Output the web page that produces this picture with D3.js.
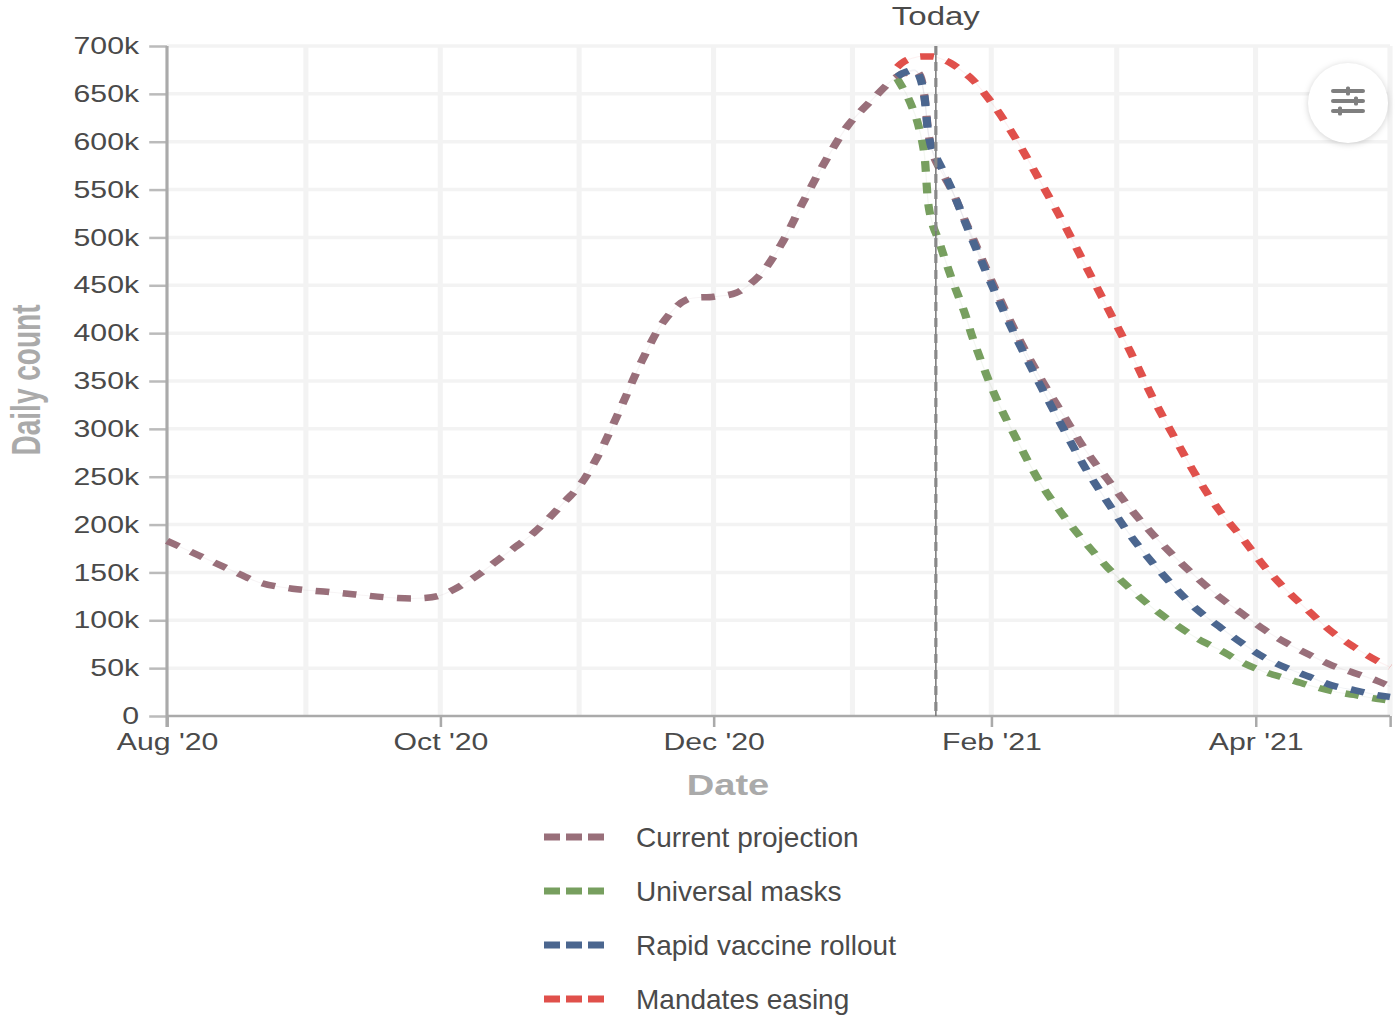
<!DOCTYPE html>
<html>
<head>
<meta charset="utf-8">
<script src="https://cdn.jsdelivr.net/npm/d3@7"></script>
<style>
  html, body { margin: 0; padding: 0; background: #fff; }
  svg { display: block; font-family: "Liberation Sans", Arial, sans-serif; }
</style>
</head>
<body>
<div id="chart"></div>
<script>
// values, daily counts in thousands
const historyDates = ["2020-08-01", "2020-08-08", "2020-08-15", "2020-08-22", "2020-08-29", "2020-09-05", "2020-09-12",
  "2020-09-19", "2020-09-26", "2020-10-01", "2020-10-08", "2020-10-15", "2020-10-22", "2020-10-29", "2020-11-01",
  "2020-11-05", "2020-11-10", "2020-11-15", "2020-11-20", "2020-11-25", "2020-12-01", "2020-12-06", "2020-12-11",
  "2020-12-16", "2020-12-21", "2020-12-26", "2020-12-31", "2021-01-05", "2021-01-10"];
const historyValues = [183, 168, 153, 139, 133, 130, 127, 124, 123, 126, 143, 167, 192, 225, 240,
  270, 319, 371, 413, 435, 438, 442, 459, 492, 537, 580, 617, 642, 665];

const projectionDates = ["2021-01-11", "2021-01-12", "2021-01-13", "2021-01-15", "2021-01-16", "2021-01-17",
  "2021-01-18", "2021-01-19", "2021-01-20", "2021-01-23", "2021-01-26", "2021-01-28", "2021-02-02", "2021-02-07",
  "2021-02-12", "2021-02-17", "2021-02-22", "2021-02-27", "2021-03-04", "2021-03-09", "2021-03-14", "2021-03-19",
  "2021-03-24", "2021-03-29", "2021-04-03", "2021-04-08", "2021-04-13", "2021-04-18", "2021-04-23", "2021-04-28", "2021-05-01"];
const currentValues = [668, 671, 672, 674, 670, 650, 608, 587, 576, 551, 519, 498, 445, 396, 353, 315, 278, 247, 217,
  190, 166, 144, 124, 107, 90, 76, 64, 53, 45, 37, 31];
const maskValues = [666, 658, 650, 628, 612, 589, 533, 512, 500, 459, 422, 393, 333, 286, 243, 210, 181, 155, 133,
  113, 96, 81, 69, 56, 46, 39, 32, 26, 22, 18, 16];
const vaccineValues = [668, 671, 673, 675, 668, 649, 607, 589, 581, 552, 518, 495, 441, 391, 345, 301, 259, 223, 189,
  160, 134, 111, 93, 76, 61, 50, 41, 32, 27, 22, 20];
const easingValues = [678, 682, 685, 688, 689, 689, 689, 689, 688, 682, 672, 664, 635, 599, 558, 516, 471, 426, 381,
  333, 290, 249, 214, 186, 156, 131, 109, 88, 72, 58, 51];

const seriesNames = ["Current projection", "Universal masks", "Rapid vaccine rollout", "Mandates easing"];
const seriesColors = ["#996f7a", "#779f5f", "#4b668f", "#e0504b"];

const yTicks = d3.range(0, 701, 50);
const monthTicks = ["2020-08-01", "2020-09-01", "2020-10-01", "2020-11-01", "2020-12-01", "2021-01-01", "2021-02-01",
  "2021-03-01", "2021-04-01", "2021-05-01"];
const labelledMonths = ["2020-08-01", "2020-10-01", "2020-12-01", "2021-02-01", "2021-04-01"];
const todayDate = "2021-01-19T15:00";

const parseDate = d => new Date(d.length > 10 ? d : d + "T00:00");
const toRows = (dates, values) => dates.map((d, i) => ({ date: parseDate(d), value: values[i] }));

const series = [
  toRows(historyDates, historyValues).concat(toRows(projectionDates, currentValues)),
  toRows(projectionDates, maskValues),
  toRows(projectionDates, vaccineValues),
  toRows(projectionDates, easingValues)
];

const width = 1396, height = 1019;
// the whole plot is stretched sideways in the picture, text and dashes included
const stretch = 1.27;
const plot = { left: 167 / stretch, right: 1390 / stretch, top: 46, bottom: 716 };

const svg = d3.select("#chart").append("svg")
  .attr("width", width)
  .attr("height", height);

const g = svg.append("g").attr("transform", `scale(${stretch},1)`);

const x = d3.scaleTime()
  .domain([parseDate(monthTicks[0]), parseDate(monthTicks[monthTicks.length - 1])])
  .range([plot.left, plot.right]);
const y = d3.scaleLinear().domain([0, 700]).range([plot.bottom, plot.top]);

// gridlines
g.append("g")
  .selectAll("line")
  .data(yTicks.slice(1))
  .join("line")
  .attr("x1", plot.left).attr("x2", plot.right)
  .attr("y1", d => y(d)).attr("y2", d => y(d))
  .attr("stroke", "#f3f3f3")
  .attr("stroke-width", 3.5);

g.append("g")
  .selectAll("line")
  .data(monthTicks.slice(1))
  .join("line")
  .attr("x1", d => x(parseDate(d))).attr("x2", d => x(parseDate(d)))
  .attr("y1", plot.top).attr("y2", plot.bottom)
  .attr("stroke", "#f3f3f3")
  .attr("stroke-width", 4);

// axes
const xAxis = d3.axisBottom(x)
  .tickValues(monthTicks.map(parseDate))
  .tickSize(0)
  .tickPadding(17)
  .tickFormat(d3.timeFormat("%b '%y"));

const xAxisG = g.append("g")
  .attr("transform", `translate(0,${plot.bottom})`)
  .call(xAxis);

xAxisG.selectAll(".tick").each(function (d) {
  const isLabelled = labelledMonths.some(m => +parseDate(m) === +d);
  const isEnd = +d === +x.domain()[1];
  d3.select(this).select("text").style("display", isLabelled ? null : "none");
  d3.select(this).select("line")
    .attr("y2", isLabelled || isEnd ? 11 : 0)
    .attr("stroke", "#aaa")
    .attr("stroke-width", 2);
});

const yAxis = d3.axisLeft(y)
  .tickValues(yTicks)
  .tickSize(14)
  .tickPadding(8)
  .tickFormat(d => d ? d + "k" : "0");

const yAxisG = g.append("g")
  .attr("transform", `translate(${plot.left},0)`)
  .call(yAxis);

yAxisG.selectAll(".tick line").attr("stroke", "#bbb").attr("stroke-width", 2.5);

g.selectAll(".domain").remove();
g.append("line")
  .attr("x1", plot.left).attr("x2", plot.right)
  .attr("y1", plot.bottom).attr("y2", plot.bottom)
  .attr("stroke", "#aaa").attr("stroke-width", 2.5);
g.append("line")
  .attr("x1", plot.left).attr("x2", plot.left)
  .attr("y1", plot.top).attr("y2", plot.bottom + 11)
  .attr("stroke", "#aaa").attr("stroke-width", 2.5);

g.selectAll(".tick text")
  .attr("font-family", "'Liberation Sans', Arial, sans-serif")
  .attr("font-size", 23.8)
  .attr("fill", "#4a4a4a");

// axis titles
g.append("text")
  .attr("x", 728 / stretch)
  .attr("y", 795)
  .attr("text-anchor", "middle")
  .attr("font-size", 30)
  .attr("font-weight", "bold")
  .attr("fill", "#aaa")
  .text("Date");

g.append("text")
  .attr("transform", `translate(${40 / stretch},380) rotate(-90)`)
  .attr("text-anchor", "middle")
  .attr("font-size", 32)
  .attr("font-weight", "bold")
  .attr("fill", "#aaa")
  .attr("textLength", 151)
  .attr("lengthAdjust", "spacingAndGlyphs")
  .text("Daily count");

// series lines
const line = d3.line()
  .x(d => x(d.date))
  .y(d => y(d.value))
  .curve(d3.curveCatmullRom.alpha(0.5));

const lines = g.append("g").attr("fill", "none");

series.forEach((rows, i) => {
  lines.append("path")
    .attr("d", line(rows))
    .attr("stroke", seriesColors[i])
    .attr("stroke-opacity", 0.08)
    .attr("stroke-width", 1);
  lines.append("path")
    .attr("d", line(rows))
    .attr("stroke", seriesColors[i])
    .attr("stroke-width", 6.5)
    .attr("stroke-dasharray", "10.8 10.7");
});

// today marker
const todayX = x(parseDate(todayDate));
g.append("line")
  .attr("x1", todayX).attr("x2", todayX)
  .attr("y1", plot.top).attr("y2", plot.bottom)
  .attr("stroke", "#777")
  .attr("stroke-width", 1.2);
g.append("line")
  .attr("x1", todayX).attr("x2", todayX)
  .attr("y1", plot.top).attr("y2", plot.bottom)
  .attr("stroke", "#888")
  .attr("stroke-width", 2.5)
  .attr("stroke-dasharray", "9 7");
g.append("text")
  .attr("x", todayX)
  .attr("y", 25)
  .attr("text-anchor", "middle")
  .attr("font-size", 26)
  .attr("fill", "#4a4a4a")
  .text("Today");

// legend is not stretched
const legend = svg.append("g")
  .selectAll("g")
  .data(seriesNames)
  .join("g")
  .attr("transform", (d, i) => `translate(0,${837 + i * 54})`);

legend.append("line")
  .attr("x1", 544).attr("x2", 606)
  .attr("stroke", (d, i) => seriesColors[i])
  .attr("stroke-width", 7)
  .attr("stroke-dasharray", "16 6");

legend.append("text")
  .attr("x", 636)
  .attr("y", 10)
  .attr("font-size", 28)
  .attr("fill", "#4a4a4a")
  .text(d => d);

// settings button
const button = svg.append("g").attr("transform", "translate(1348,103)");
button.append("circle")
  .attr("r", 40)
  .attr("fill", "#fff")
  .style("filter", "drop-shadow(0 1px 3px rgba(0,0,0,0.18))");
[[-12, 0], [-2, 8], [8, -8]].forEach(([dy, knob]) => {
  button.append("line")
    .attr("x1", -15).attr("x2", 15)
    .attr("y1", dy).attr("y2", dy)
    .attr("stroke", "#7f7f7f").attr("stroke-width", 4).attr("stroke-linecap", "round");
  button.append("rect")
    .attr("x", knob - 2).attr("y", dy - 4.5)
    .attr("width", 4).attr("height", 9).attr("rx", 1.5)
    .attr("fill", "#7f7f7f");
});
</script>
</body>
</html>
